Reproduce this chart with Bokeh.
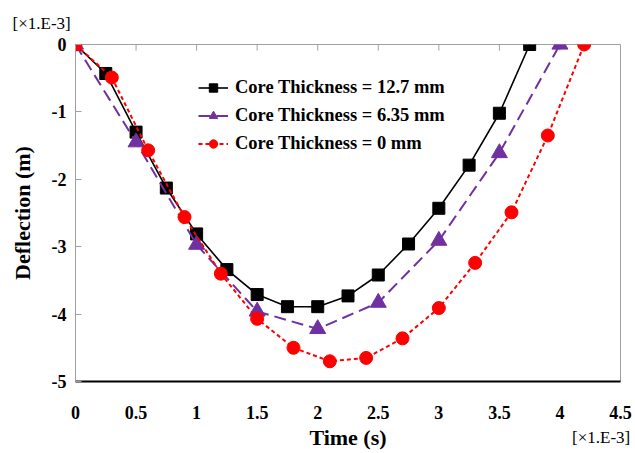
from bokeh.plotting import figure
from bokeh.models import (Legend, LegendItem, LinearAxis, FixedTicker,
                          CustomJSTickFormatter, Range1d)
from bokeh.embed import file_html
from bokeh.resources import INLINE

# Time (x1e-3 s) and deflection (x1e-3 m)
t_127 = [0, 0.25, 0.5, 0.75, 1.0, 1.25, 1.5, 1.75, 2.0, 2.25, 2.5, 2.75, 3.0, 3.25, 3.5, 3.75]
d_127 = [0, -0.43, -1.30, -2.13, -2.81, -3.34, -3.71, -3.89, -3.89, -3.73, -3.42, -2.96, -2.43, -1.79, -1.02, 0]

t_635 = [0, 0.5, 1.0, 1.5, 2.0, 2.5, 3.0, 3.5, 4.0]
d_635 = [0, -1.45, -2.97, -3.96, -4.22, -3.83, -2.91, -1.61, 0]

t_0 = [0, 0.3, 0.6, 0.9, 1.2, 1.5, 1.8, 2.1, 2.4, 2.7, 3.0, 3.3, 3.6, 3.9, 4.2]
d_0 = [0, -0.49, -1.57, -2.56, -3.40, -4.07, -4.50, -4.70, -4.65, -4.36, -3.91, -3.24, -2.49, -1.35, 0]

x_ticks = [0, 0.5, 1, 1.5, 2, 2.5, 3, 3.5, 4, 4.5]
y_ticks = [0, -1, -2, -3, -4, -5]
labels = ["Core Thickness = 12.7 mm", "Core Thickness = 6.35 mm", "Core Thickness = 0 mm"]
scale_note = "[×1.E-3]"

FONT = "Liberation Serif"
plain = CustomJSTickFormatter(code="return tick.toString();")

p = figure(width=635, height=453, output_backend="svg", toolbar_location=None,
           x_range=Range1d(0, 4.5), y_range=Range1d(-5, 0),
           x_axis_location=None, y_axis_location=None,
           min_border_left=75, min_border_right=15, min_border_top=43, min_border_bottom=72)
p.xgrid.visible = False
p.ygrid.visible = False
p.outline_line_color = "#a0a0a0"
p.outline_line_width = 1
p.background_fill_color = "white"
p.border_fill_color = "white"

# top-left scale note as the plot title
p.title.text = scale_note
p.title.align = "left"
p.title.offset = -63
p.title.standoff = 23
p.title.text_font = FONT
p.title.text_font_style = "normal"
p.title.text_font_size = "17px"
p.title.text_color = "black"

# bottom axis (labels)
xa = LinearAxis(ticker=FixedTicker(ticks=x_ticks), axis_label="Time (s)", formatter=plain)
xa.axis_line_color = "black"
xa.axis_line_width = 2
xa.major_tick_line_color = None
xa.major_tick_out = 0
xa.major_tick_in = 0
xa.minor_tick_line_color = None
xa.major_label_standoff = 24
xa.major_label_text_font = FONT
xa.major_label_text_font_style = "bold"
xa.major_label_text_font_size = "18px"
xa.major_label_text_color = "black"
xa.axis_label_text_font = FONT
xa.axis_label_text_font_style = "bold"
xa.axis_label_text_font_size = "22px"
xa.axis_label_text_color = "black"
xa.axis_label_standoff = 3
p.add_layout(xa, "below")

# second bottom axis carrying the bottom-right scale note
note_fmt = CustomJSTickFormatter(args=dict(note=scale_note), code="return note;")
xb = LinearAxis(ticker=FixedTicker(ticks=[4.34]), formatter=note_fmt)
xb.axis_line_color = None
xb.major_tick_line_color = None
xb.major_tick_out = 0
xb.major_tick_in = 0
xb.minor_tick_line_color = None
xb.major_label_standoff = -25
xb.major_label_text_font = FONT
xb.major_label_text_font_size = "17px"
xb.major_label_text_color = "black"
p.add_layout(xb, "below")

# left axis
ya = LinearAxis(ticker=FixedTicker(ticks=y_ticks), axis_label="Deflection (m)", formatter=plain)
ya.axis_line_color = "#a0a0a0"
ya.major_tick_in = 6
ya.major_tick_out = 0
ya.major_tick_line_color = "#a0a0a0"
ya.minor_tick_line_color = None
ya.major_label_standoff = 9
ya.major_label_text_font = FONT
ya.major_label_text_font_style = "bold"
ya.major_label_text_font_size = "18px"
ya.major_label_text_color = "black"
ya.axis_label_text_font = FONT
ya.axis_label_text_font_style = "bold"
ya.axis_label_text_font_size = "22px"
ya.axis_label_text_color = "black"
ya.axis_label_standoff = 14
p.add_layout(ya, "left")

# series
r1l = p.line(t_127, d_127, line_color="black", line_width=1.6)
r1m = p.scatter(t_127, d_127, marker="square", size=12, fill_color="black", line_color="black")
r2l = p.line(t_635, d_635, line_color="#7030A0", line_width=2, line_dash="12 6")
r2m = p.scatter(t_635, d_635, marker="triangle", size=16, fill_color="#7030A0", line_color="#7030A0")
r3l = p.line(t_0, d_0, line_color="#FF0000", line_width=2, line_dash="4 3")
r3m = p.scatter(t_0, d_0, marker="circle", size=13, fill_color="#FF0000", line_color="#FF0000")

# x-axis ticks along the top edge (y = 0), pointing down
p.segment(x0=x_ticks, y0=[0] * len(x_ticks), x1=x_ticks, y1=[-0.09] * len(x_ticks),
          line_color="#a0a0a0", line_width=1, level="underlay")

legend = Legend(items=[LegendItem(label=labels[0], renderers=[r1l, r1m]),
                       LegendItem(label=labels[1], renderers=[r2l, r2m]),
                       LegendItem(label=labels[2], renderers=[r3l, r3m])],
                location=(123, 227))
legend.border_line_alpha = 0
legend.background_fill_alpha = 0
legend.padding = 0
legend.margin = 0
legend.spacing = 7
legend.glyph_width = 30
legend.glyph_height = 21
legend.label_height = 21
legend.label_standoff = 7
legend.label_text_font = FONT
legend.label_text_font_style = "bold"
legend.label_text_font_size = "18.5px"
legend.label_text_color = "black"
p.add_layout(legend, "center")

open("out.html", "w").write(file_html(p, INLINE))
